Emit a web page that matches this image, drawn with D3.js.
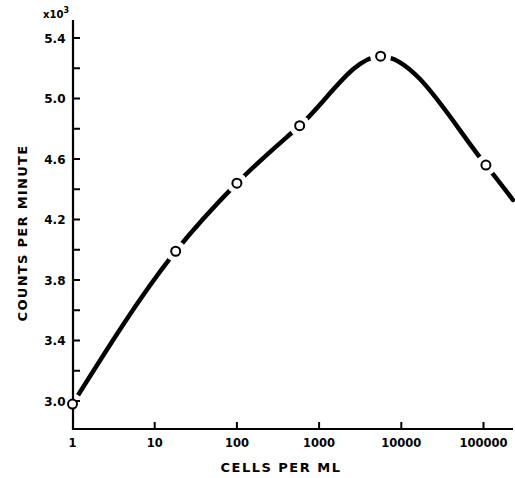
<!DOCTYPE html>
<html>
<head>
  <meta charset="utf-8">
  <script src="https://d3js.org/d3.v7.min.js"></script>
  <style>
    body { margin: 0; background: #fff; }
    text { font-family: "DejaVu Sans", Arial, sans-serif; font-weight: bold; fill: #000; }
  </style>
</head>
<body>
  <svg id="chart" width="515" height="478"></svg>
  <script>
    // measured points (cells per ml, counts per minute x10^3)
    const cells = [1, 18, 100, 580, 5600, 107000];
    const counts = [2.98, 3.99, 4.44, 4.82, 5.28, 4.56];
    // where the drawn curve runs off at the right
    const curveEnd = [228000, 4.33];
    const xTicks = [1, 10, 100, 1000, 10000, 100000];
    const yTicks = [3.0, 3.2, 3.4, 3.6, 3.8, 4.0, 4.2, 4.4, 4.6, 4.8, 5.0, 5.2, 5.4];
    const yLabels = [3.0, 3.4, 3.8, 4.2, 4.6, 5.0, 5.4];

    const svg = d3.select("svg#chart");
    const left = 73, bottom = 429;

    const x = d3.scaleLog().domain([1, 100000]).range([72.5, 483.5]);
    const y = d3.scaleLinear().domain([3.0, 5.4]).range([401, 38]);

    // smooth curve through the points
    const pts = cells.map((c, i) => [c, counts[i]]).concat([curveEnd]);
    const line = d3.line()
      .x(d => x(d[0])).y(d => y(d[1]))
      .curve(d3.curveMonotoneX);
    svg.append("path")
      .attr("d", line(pts))
      .attr("fill", "none").attr("stroke", "#000")
      .attr("stroke-width", 4.5).attr("stroke-linecap", "round");

    // gaps round the circles
    svg.selectAll("circle.gap").data(cells)
      .join("circle").attr("class", "gap")
      .attr("cx", d => x(d)).attr("cy", (d, i) => y(counts[i]))
      .attr("r", 10.5).attr("fill", "#fff");

    // axes
    svg.append("line")
      .attr("x1", left).attr("x2", left).attr("y1", 20).attr("y2", bottom + 1)
      .attr("stroke", "#000").attr("stroke-width", 2.2);
    svg.append("line")
      .attr("x1", left - 1).attr("x2", 513).attr("y1", bottom).attr("y2", bottom)
      .attr("stroke", "#000").attr("stroke-width", 2.2);

    svg.selectAll("line.ytick").data(yTicks)
      .join("line").attr("class", "ytick")
      .attr("x1", left).attr("x2", left + 7)
      .attr("y1", d => y(d)).attr("y2", d => y(d))
      .attr("stroke", "#000").attr("stroke-width", 2);

    svg.selectAll("text.ylab").data(yLabels)
      .join("text").attr("class", "ylab")
      .attr("x", 65.5).attr("y", d => y(d) + 4.5)
      .attr("text-anchor", "end")
      .style("font-size", "12px")
      .text(d => d3.format(".1f")(d));

    svg.selectAll("line.xtick").data(xTicks.slice(1))
      .join("line").attr("class", "xtick")
      .attr("x1", d => x(d)).attr("x2", d => x(d))
      .attr("y1", bottom).attr("y2", bottom - 7)
      .attr("stroke", "#000").attr("stroke-width", 2);

    svg.selectAll("text.xlab").data(xTicks)
      .join("text").attr("class", "xlab")
      .attr("x", d => x(d)).attr("y", 447)
      .attr("text-anchor", "middle")
      .style("font-size", "11.5px")
      .text(d => d);

    svg.append("text")
      .attr("x", 43).attr("y", 18)
      .style("font-size", "10px")
      .text("x10")
      .append("tspan").attr("dy", -5).style("font-size", "8px").text("3");

    svg.append("text")
      .attr("transform", "translate(27,233) rotate(-90)")
      .attr("text-anchor", "middle")
      .style("font-size", "13px")
      .style("letter-spacing", "1.3px")
      .text("COUNTS PER MINUTE");

    svg.append("text")
      .attr("x", 281).attr("y", 472)
      .attr("text-anchor", "middle")
      .style("font-size", "13px")
      .style("letter-spacing", "1.5px")
      .text("CELLS PER ML");

    svg.selectAll("circle.pt").data(cells)
      .join("circle").attr("class", "pt")
      .attr("cx", d => x(d)).attr("cy", (d, i) => y(counts[i]))
      .attr("r", 4.5).attr("fill", "#fff")
      .attr("stroke", "#000").attr("stroke-width", 2);
  </script>
</body>
</html>
